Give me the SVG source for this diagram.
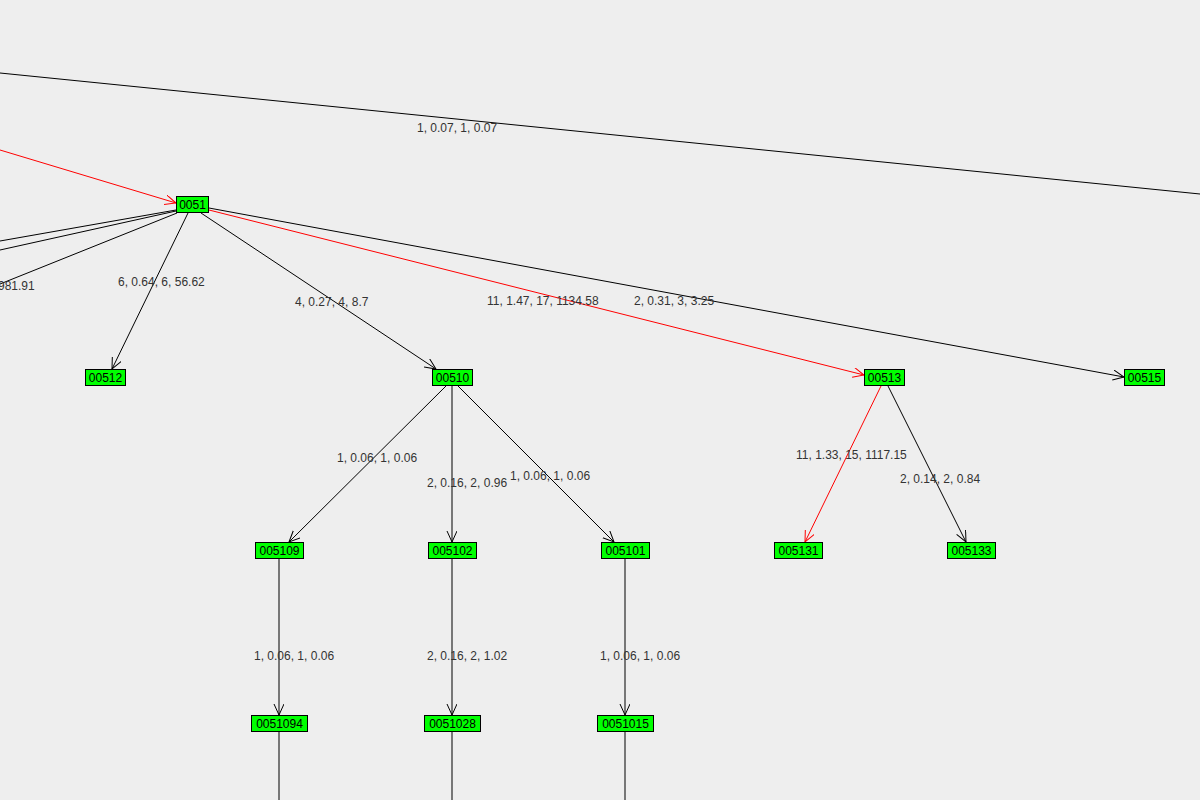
<svg xmlns="http://www.w3.org/2000/svg" width="1200" height="800" viewBox="0 0 1200 800">
<style>
.n rect{fill:#00ff00;stroke:#000;stroke-width:1}
text{font-family:"Liberation Sans",Arial,sans-serif;font-size:12px;fill:#333}
.n text{fill:#000;text-anchor:middle}
.e{stroke:#000;stroke-width:1;fill:none}
.r{stroke:#f00;stroke-width:1;fill:none}
</style>
<defs>
<marker id="ab" markerWidth="12" markerHeight="12" refX="11" refY="5" orient="auto" markerUnits="userSpaceOnUse"><path d="M0,0 L11,5 L0,10" fill="none" stroke="#000"/></marker>
<marker id="ar" markerWidth="12" markerHeight="12" refX="11" refY="5" orient="auto" markerUnits="userSpaceOnUse"><path d="M0,0 L11,5 L0,10" fill="none" stroke="#f00"/></marker>
</defs>
<rect width="1200" height="800" fill="#eeeeee"/>
<g id="connectors">
<line class="e" x1="0" y1="73" x2="1200" y2="194"/>
<line class="r" x1="0" y1="150" x2="176" y2="203" marker-end="url(#ar)"/>
<line class="e" x1="176" y1="210" x2="0" y2="241"/>
<line class="e" x1="176" y1="211" x2="0" y2="250"/>
<line class="e" x1="177" y1="213" x2="0" y2="284"/>
<line class="e" x1="188" y1="213" x2="112" y2="369" marker-end="url(#ab)"/>
<line class="e" x1="201" y1="213" x2="436" y2="369" marker-end="url(#ab)"/>
<line class="r" x1="209" y1="210" x2="864" y2="375" marker-end="url(#ar)"/>
<line class="e" x1="209" y1="208" x2="1124" y2="377" marker-end="url(#ab)"/>
<line class="e" x1="446" y1="386" x2="289" y2="542" marker-end="url(#ab)"/>
<line class="e" x1="452" y1="386" x2="452" y2="542" marker-end="url(#ab)"/>
<line class="e" x1="458" y1="386" x2="614" y2="542" marker-end="url(#ab)"/>
<line class="r" x1="881" y1="386" x2="805" y2="542" marker-end="url(#ar)"/>
<line class="e" x1="888" y1="386" x2="966" y2="542" marker-end="url(#ab)"/>
<line class="e" x1="279" y1="559" x2="279" y2="715" marker-end="url(#ab)"/>
<line class="e" x1="452" y1="559" x2="452" y2="715" marker-end="url(#ab)"/>
<line class="e" x1="625" y1="559" x2="625" y2="715" marker-end="url(#ab)"/>
<line class="e" x1="279" y1="732" x2="279" y2="800"/>
<line class="e" x1="452" y1="732" x2="452" y2="800"/>
<line class="e" x1="625" y1="732" x2="625" y2="800"/>
<text x="417" y="132">1, 0.07, 1, 0.07</text>
<text x="-2" y="290">981.91</text>
<text x="118" y="286">6, 0.64, 6, 56.62</text>
<text x="295" y="306">4, 0.27, 4, 8.7</text>
<text x="487" y="305">11, 1.47, 17, 1134.58</text>
<text x="634" y="305">2, 0.31, 3, 3.25</text>
<text x="337" y="462">1, 0.06, 1, 0.06</text>
<text x="427" y="487">2, 0.16, 2, 0.96</text>
<text x="510" y="480">1, 0.06, 1, 0.06</text>
<text x="796" y="459">11, 1.33, 15, 1117.15</text>
<text x="900" y="483">2, 0.14, 2, 0.84</text>
<text x="254" y="660">1, 0.06, 1, 0.06</text>
<text x="427" y="660">2, 0.16, 2, 1.02</text>
<text x="600" y="660">1, 0.06, 1, 0.06</text>
</g>
<g id="n0051" class="n"><rect x="176.5" y="196.5" width="32" height="16"/><text x="192.5" y="209">0051</text></g>
<g id="n00512" class="n"><rect x="85.5" y="369.5" width="40" height="16"/><text x="105.5" y="382">00512</text></g>
<g id="n00510" class="n"><rect x="432.5" y="369.5" width="40" height="16"/><text x="452.5" y="382">00510</text></g>
<g id="n00513" class="n"><rect x="864.5" y="369.5" width="40" height="16"/><text x="884.5" y="382">00513</text></g>
<g id="n00515" class="n"><rect x="1124.5" y="369.5" width="40" height="16"/><text x="1144.5" y="382">00515</text></g>
<g id="n005109" class="n"><rect x="255.5" y="542.5" width="48" height="16"/><text x="279.5" y="555">005109</text></g>
<g id="n005102" class="n"><rect x="428.5" y="542.5" width="48" height="16"/><text x="452.5" y="555">005102</text></g>
<g id="n005101" class="n"><rect x="601.5" y="542.5" width="48" height="16"/><text x="625.5" y="555">005101</text></g>
<g id="n005131" class="n"><rect x="774.5" y="542.5" width="48" height="16"/><text x="798.5" y="555">005131</text></g>
<g id="n005133" class="n"><rect x="947.5" y="542.5" width="48" height="16"/><text x="971.5" y="555">005133</text></g>
<g id="n0051094" class="n"><rect x="251.5" y="715.5" width="56" height="16"/><text x="279.5" y="728">0051094</text></g>
<g id="n0051028" class="n"><rect x="424.5" y="715.5" width="56" height="16"/><text x="452.5" y="728">0051028</text></g>
<g id="n0051015" class="n"><rect x="597.5" y="715.5" width="56" height="16"/><text x="625.5" y="728">0051015</text></g>
</svg>
